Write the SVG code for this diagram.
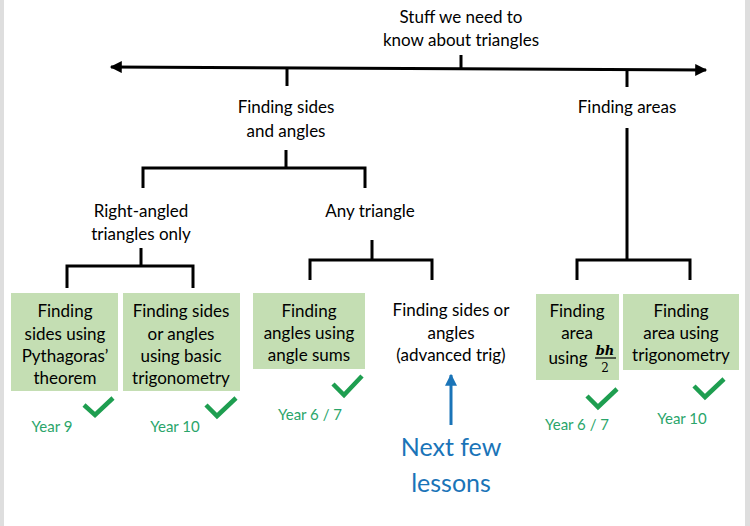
<svg xmlns="http://www.w3.org/2000/svg" width="750" height="526" viewBox="0 0 750 526">
  <defs>
    <marker id="headBlack" viewBox="0 0 10 10" refX="9" refY="5" markerWidth="4.5" markerHeight="4" orient="auto-start-reverse" markerUnits="strokeWidth">
      <path d="M0,0 L10,5 L0,10 z" fill="#000"/>
    </marker>
    <marker id="headBlue" viewBox="0 0 10 10" refX="9" refY="5" markerWidth="4" markerHeight="4" orient="auto" markerUnits="strokeWidth">
      <path d="M0,0 L10,5 L0,10 z" fill="#1a74b8"/>
    </marker>
  </defs>
  <style>
    text { font-family: Lato, "Open Sans", "Liberation Sans", sans-serif; text-anchor: middle; }
    .lbl { font-size: 17px; fill: #000; }
    .box { fill: #c4deb3; }
    .line { stroke: #000; stroke-width: 3; fill: none; }
    .tick { stroke: #1e9e50; stroke-width: 4.5; fill: none; stroke-linecap: butt; stroke-linejoin: miter; }
    .year { font-size: 15px; fill: #2aa56a; }
    .next { font-size: 25px; fill: #1a74b8; }
    .math { font-family: "DejaVu Serif", "Liberation Serif", serif; fill: #000; }
  </style>

  <rect x="0" y="0" width="750" height="526" fill="#fff"/>
  <rect x="0" y="0" width="4" height="526" fill="#dedede"/>
  <rect x="745" y="0" width="5" height="526" fill="#dedede"/>

  <!-- connectors -->
  <g id="connectors">
    <path class="line" d="M111,67 L706,70" marker-start="url(#headBlack)" marker-end="url(#headBlack)"/>
    <path class="line" d="M461,55 V68"/>
    <path class="line" d="M287,68 V86"/>
    <path class="line" d="M627,69 V87"/>
    <!-- sides and angles branch -->
    <path class="line" d="M286,150 V168 M143,188 V168 H365 V188"/>
    <!-- right-angled branch -->
    <path class="line" d="M141,248 V266 M67,288 V266 H193 V288"/>
    <!-- any triangle branch -->
    <path class="line" d="M372,240 V260 M310,280 V260 H432 V280"/>
    <!-- areas branch -->
    <path class="line" d="M627,128 V260 M577,280 V260 H690 V280"/>
    <!-- pointer to upcoming work -->
    <path d="M451,425 V375" stroke="#1a74b8" stroke-width="3" fill="none" marker-end="url(#headBlue)"/>
  </g>

  <g id="root">
    <text class="lbl" x="461" y="23">Stuff we  need to</text>
    <text class="lbl" x="461" y="46">know about triangles</text>
  </g>

  <g id="sides-angles">
    <text class="lbl" x="286" y="113">Finding sides</text>
    <text class="lbl" x="286" y="137">and angles</text>
  </g>

  <g id="areas">
    <text class="lbl" x="627" y="113">Finding areas</text>
  </g>

  <g id="right-angled">
    <text class="lbl" x="141" y="217">Right-angled</text>
    <text class="lbl" x="141" y="240">triangles only</text>
  </g>

  <g id="any-triangle">
    <text class="lbl" x="370" y="217">Any triangle</text>
  </g>

  <g id="pythagoras">
    <rect class="box" x="11" y="293" width="107" height="98"/>
    <text class="lbl" x="65" y="317">Finding</text>
    <text class="lbl" x="65" y="340">sides using</text>
    <text class="lbl" x="65" y="362">Pythagoras’</text>
    <text class="lbl" x="65" y="384">theorem</text>
    <path class="tick" d="M84,405 L95,415 L113,398"/>
    <text class="year" x="52" y="432">Year 9</text>
  </g>

  <g id="basic-trig">
    <rect class="box" x="123" y="293" width="117" height="98"/>
    <text class="lbl" x="181" y="317">Finding sides</text>
    <text class="lbl" x="181" y="340">or angles</text>
    <text class="lbl" x="181" y="362">using basic</text>
    <text class="lbl" x="181" y="384">trigonometry</text>
    <path class="tick" d="M206,405 L217,416 L236,398"/>
    <text class="year" x="175" y="432">Year 10</text>
  </g>

  <g id="angle-sums">
    <rect class="box" x="253" y="293" width="112" height="76"/>
    <text class="lbl" x="309" y="317">Finding</text>
    <text class="lbl" x="309" y="339">angles using</text>
    <text class="lbl" x="309" y="361">angle sums</text>
    <path class="tick" d="M333,384 L344,395 L362,376"/>
    <text class="year" x="310" y="420">Year 6 / 7</text>
  </g>

  <g id="advanced-trig">
    <text class="lbl" x="451" y="316">Finding sides or</text>
    <text class="lbl" x="451" y="339">angles</text>
    <text class="lbl" x="451" y="361">(advanced trig)</text>
  </g>

  <g id="next-lessons">
    <text class="next" x="451" y="456">Next few</text>
    <text class="next" x="451" y="492">lessons</text>
  </g>

  <g id="area-bh">
    <rect class="box" x="536" y="294" width="83" height="86"/>
    <text class="lbl" x="577" y="317">Finding</text>
    <text class="lbl" x="577" y="339">area</text>
    <text class="lbl" x="568" y="364">using</text>
    <text class="math" x="605" y="355" style="font-style:italic;font-weight:bold;font-size:13px">bh</text>
    <line x1="595" y1="358" x2="616" y2="358" stroke="#000" stroke-width="1.2"/>
    <text class="math" x="605" y="372" style="font-size:12px">2</text>
    <path class="tick" d="M587,396 L598,407 L617,389"/>
    <text class="year" x="577" y="430">Year 6 / 7</text>
  </g>

  <g id="area-trig">
    <rect class="box" x="623" y="294" width="116" height="76"/>
    <text class="lbl" x="681" y="317">Finding</text>
    <text class="lbl" x="681" y="339">area using</text>
    <text class="lbl" x="681" y="361">trigonometry</text>
    <path class="tick" d="M694,386 L705,397 L724,379"/>
    <text class="year" x="682" y="424">Year 10</text>
  </g>
</svg>
